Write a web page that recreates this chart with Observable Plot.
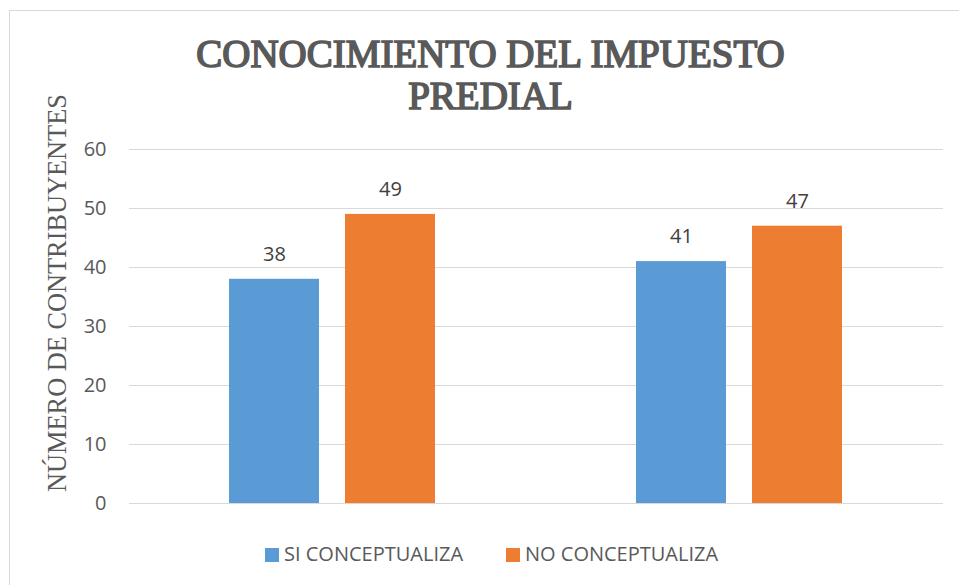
<!DOCTYPE html>
<html>
<head>
<meta charset="utf-8">
<script src="https://cdn.jsdelivr.net/npm/d3@7"></script>
<script src="https://cdn.jsdelivr.net/npm/@observablehq/plot@0.6"></script>
<style>
  html, body { margin: 0; padding: 0; background: #fff; overflow: hidden; }
  #page { position: relative; width: 959px; height: 585px; overflow: hidden; }
  #frame { position: absolute; left: 9px; top: 10px; width: 1100px; height: 700px; border: 1px solid #d9d9d9; box-sizing: border-box; }
  #title { position: absolute; left: 90.5px; width: 800px; top: 32.5px; text-align: center;
           font-family: "Liberation Serif", serif; font-weight: normal; font-synthesis: none;
           -webkit-text-stroke: 1.6px #595959; font-size: 37px; line-height: 42px; color: #595959; white-space: nowrap; }
  #ylabel { position: absolute; left: -192px; top: 278px; width: 500px; height: 30px; line-height: 30px;
            text-align: center; transform: rotate(-90deg); transform-origin: 50% 50%;
            font-family: "Liberation Serif", serif; font-size: 26px; color: #595959; white-space: nowrap; }
  #chart { position: absolute; left: 0; top: 120px; }
  .legend-item { position: absolute; top: 544px; height: 20px; line-height: 20px;
                 font-family: "Open Sans", sans-serif; font-size: 20px; color: #595959; white-space: nowrap; }
  .swatch { position: absolute; top: 548px; width: 14px; height: 14px; }
</style>
</head>
<body>
<div id="page">
  <div id="frame"></div>
  <div id="title"></div>
  <div id="ylabel"></div>
  <div id="chart"></div>
  <div id="legend"></div>
</div>
<script>
const titleLines = ["CONOCIMIENTO DEL IMPUESTO", "PREDIAL"];
const groups = ["1", "2"];
const series = ["SI CONCEPTUALIZA", "NO CONCEPTUALIZA"];
const siValues = [38, 41];
const noValues = [49, 47];
const yTicks = [0, 10, 20, 30, 40, 50, 60];
const colors = ["#5B9BD5", "#ED7D31"];
const yLabel = "NÚMERO DE CONTRIBUYENTES";

const ctx = document.createElement("canvas").getContext("2d");
function w(font, txt) { ctx.font = font; return ctx.measureText(txt).width; }

// title: fit first line to ~590px (stroke adds a little)
const titleEl = document.getElementById("title");
const tw = w(`37px "Liberation Serif", serif`, titleLines[0]);
const tSize = Math.max(34, Math.min(41, 37 * 590 / tw));
titleEl.style.fontSize = tSize + "px";
titleEl.innerHTML = titleLines.join("<br>");

// y label: fit to ~398px
const yl = document.getElementById("ylabel");
const yw = w(`26px "Liberation Serif", serif`, yLabel);
yl.style.fontSize = Math.max(22, Math.min(28, 26 * 398 / yw)) + "px";
yl.textContent = yLabel;

const data = groups.flatMap((g, i) => [
  {group: g, series: series[0], value: siValues[i]},
  {group: g, series: series[1], value: noValues[i]}
]);

const chart = Plot.plot({
  width: 959,
  height: 410,
  marginLeft: 128,
  marginRight: 16,
  marginTop: 29,
  marginBottom: 27,
  style: {fontFamily: "'Open Sans', sans-serif", fontSize: "20px", color: "#595959", background: "transparent"},
  fx: {domain: groups, padding: 0, axis: null, label: null},
  x: {domain: series, paddingInner: 26 / 117, paddingOuter: 0.8526, axis: null},
  y: {domain: [0, 60], ticks: yTicks, tickSize: 0, tickPadding: 23, label: null, tickFormat: d => String(d)},
  color: {domain: series, range: colors},
  marks: [
    Plot.ruleY(yTicks, {stroke: "#d9d9d9", strokeWidth: 1.2}),
    Plot.barY(data, {fx: "group", x: "series", y: "value", fill: "series"}),
    Plot.text(data, {fx: "group", x: "series", y: "value", text: d => String(d.value), dy: -25, fill: "#404040", fontSize: 20})
  ]
});
document.getElementById("chart").appendChild(chart);

// legend
const legend = document.getElementById("legend");
const swatchX = [265, 506];
series.forEach((s, i) => {
  const sw = document.createElement("div");
  sw.className = "swatch";
  sw.style.left = swatchX[i] + "px";
  sw.style.background = colors[i];
  legend.appendChild(sw);
  const t = document.createElement("div");
  t.className = "legend-item";
  t.style.left = (swatchX[i] + 19) + "px";
  t.textContent = s;
  legend.appendChild(t);
});
</script>
</body>
</html>
